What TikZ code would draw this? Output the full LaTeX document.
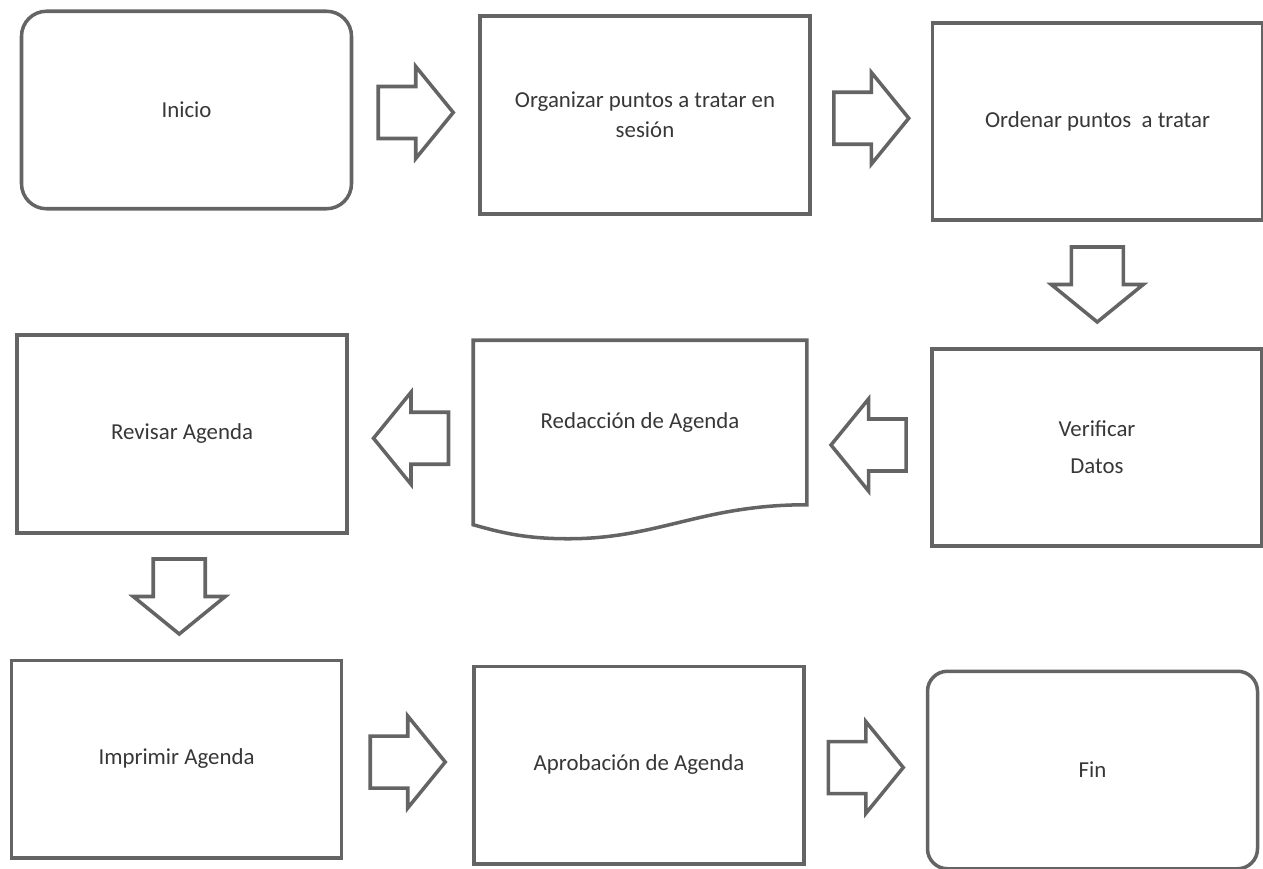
\documentclass[tikz,border=0pt]{standalone}
\usepackage{fontspec}
\setmainfont{Carlito}
\usetikzlibrary{calc}
\definecolor{scangray}{RGB}{100,100,100}
\definecolor{inkgray}{RGB}{55,55,55}

\begin{document}
\begin{tikzpicture}[
	stepbox/.style={draw=scangray,line width=2pt,minimum width=6.6cm,minimum height=3.95cm,
		text=inkgray,font=\fontsize{13}{17}\selectfont,align=center},
	endbox/.style={stepbox,rounded corners=0.5cm},
	pics/blockarrow/.style={code={
		\draw[draw=scangray,line width=2pt,fill=white]
			(-0.75,0.52)--(0,0.52)--(0,0.92)--(0.75,0)--(0,-0.92)--(0,-0.52)--(-0.75,-0.52)--cycle;}}
]
	\useasboundingbox (0,0) rectangle (25.26,-17.38);

	%top row
	\node[endbox]	(inicio)	at (3.73,-2.2)	{Inicio};
	\node[stepbox]	(organizar)	at (12.9,-2.3)	{Organizar puntos a tratar en\\sesión};
	\node[stepbox]	(ordenar)	at (21.95,-2.43)	{Ordenar puntos\ \ a tratar};

	%middle row
	\node[stepbox]	(verificar)	at (21.94,-8.95)	{Verificar\\[4pt]Datos};
	\node[stepbox,draw=none,minimum height=3.22cm] (redaccion) at (12.8,-8.45) {Redacción de Agenda};
	\node[stepbox]	(revisar)	at (3.64,-8.68)	{Revisar Agenda};
		%document shape, wavy bottom
		\draw[draw=scangray,line width=2pt] (redaccion.south east) -- (redaccion.north east)
			-- (redaccion.north west) -- ($(redaccion.south west)+(0,-0.4)$)
			.. controls +(0.5,-0.14) and +(-0.9,0) .. ($(redaccion.south west)+(1.9,-0.68)$)
			.. controls +(1.8,0) and +(-2.1,0) .. (redaccion.south east) -- cycle;

	%bottom row
	\node[stepbox]	(imprimir)	at (3.53,-15.18)	{Imprimir Agenda};
	\node[stepbox]	(aprobacion) at (12.78,-15.3)	{Aprobación de Agenda};
	\node[endbox,rounded corners=0.4cm] (fin) at (21.85,-15.4) {Fin};

	%block arrows
	\pic at ($(inicio.east)!0.5!(organizar.west)$) {blockarrow};
	\pic at ($(organizar.east)!0.5!(ordenar.west)$) {blockarrow};
	\pic[rotate=-90] at ($(ordenar.south)!0.5!(verificar.north)$) {blockarrow};
	\pic[rotate=180] at ($(verificar.west)!0.5!(redaccion.east)+(0,-0.2)$) {blockarrow};
	\pic[rotate=180] at ($(redaccion.west)!0.5!(revisar.east)+(0,-0.2)$) {blockarrow};
	\pic[rotate=-90] at ($(revisar.south)!0.5!(imprimir.north)$) {blockarrow};
	\pic at ($(imprimir.east)!0.5!(aprobacion.west)$) {blockarrow};
	\pic at ($(aprobacion.east)!0.5!(fin.west)$) {blockarrow};
\end{tikzpicture}
\end{document}
